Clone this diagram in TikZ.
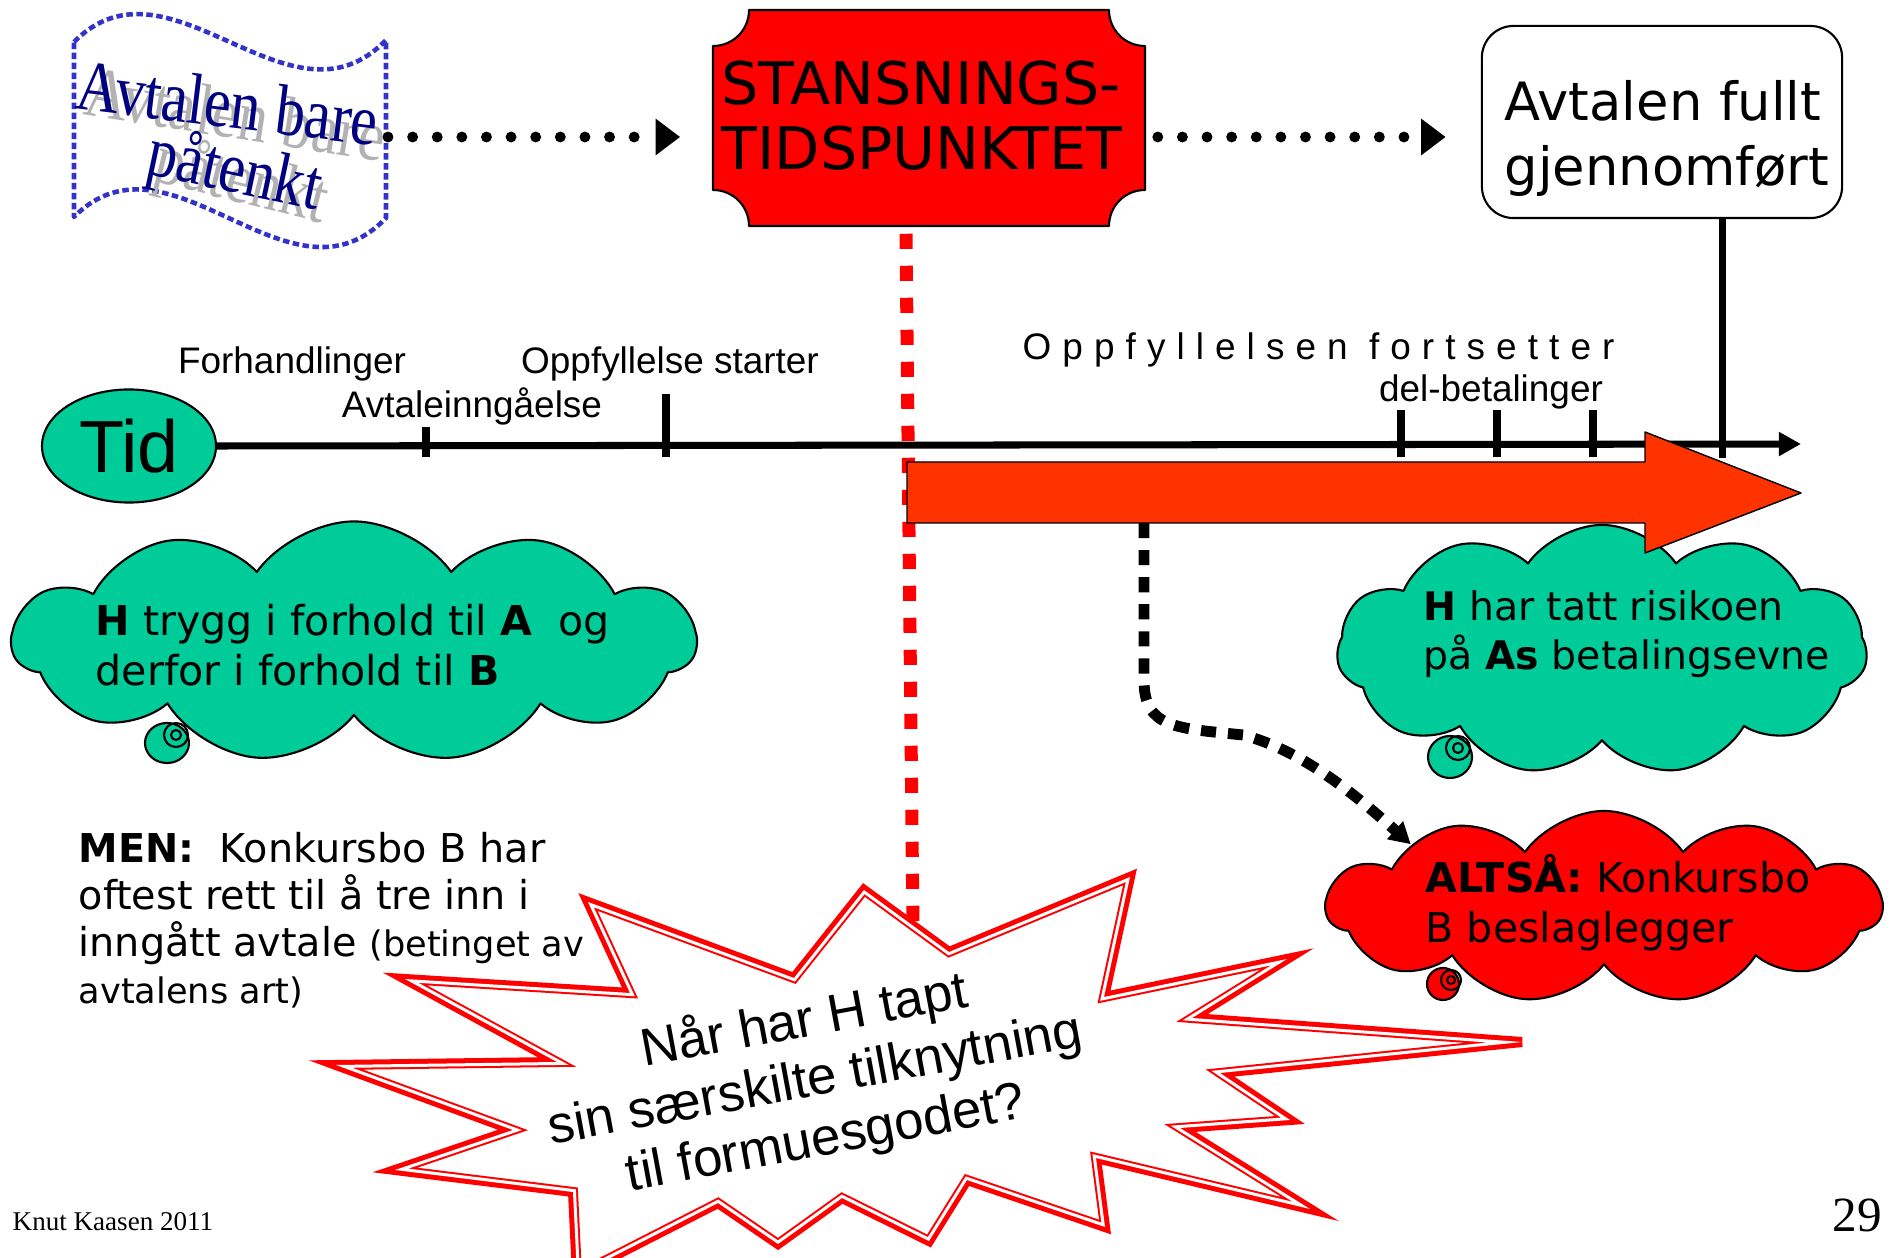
\documentclass[tikz,border=0pt]{standalone}
\usepackage{fontspec}
\setmainfont{Liberation Sans}
\newfontfamily\comicfont{DejaVu Sans}
\newfontfamily\seriffont{Liberation Serif}
\newfontfamily\spacedfont[LetterSpace=30]{Liberation Sans}
\usetikzlibrary{arrows.meta}
\usetikzlibrary{positioning}
\usetikzlibrary{shapes.symbols,shapes.geometric}
\usetikzlibrary{calc}

\definecolor{tidgreen}{RGB}{0,204,153}
\definecolor{arrowred}{RGB}{255,51,0}
\definecolor{bannerblue}{RGB}{51,51,204}
\definecolor{wordnavy}{RGB}{0,0,128}
\definecolor{shadowgray}{RGB}{178,178,178}

\newcommand\comictext{\comicfont\fontsize{11.7pt}{14pt}\selectfont}
\newcommand\labeltext{\fontsize{10.5pt}{12pt}\selectfont}
\newcommand\wordart{\seriffont\fontsize{17pt}{20pt}\selectfont}

\begin{document}
\begin{tikzpicture}[x=0.01cm, y=-0.01cm, line join=round]
\tikzstyle{dotarrow}=[line width=3.1pt, line cap=round, dash pattern=on 0pt off 7pt, -{Triangle[length=7pt,width=10pt]}]
\tikzstyle{timeline}=[line width=2pt]
\tikzstyle{smalllabel}=[inner sep=0pt, font=\labeltext]
\tikzstyle{redmark}=[red, line width=3.7pt, dash pattern=on 4.3pt off 4.8pt]
\tikzstyle{riskline}=[line width=3.1pt, dash pattern=on 4.3pt off 3.4pt, -{Triangle[length=6pt,width=6.5pt]}]
\tikzstyle{cloudbox}=[cloud, cloud puffs=11, cloud puff arc=110, cloud ignores aspect, draw=black, line width=0.6pt, inner sep=0pt]
\tikzstyle{cloudtext}=[anchor=north west, align=left, inner sep=0pt, font=\comictext]
\tikzstyle{tail}=[draw=black, line width=0.6pt]

\useasboundingbox (0,0) rectangle (1893,1258);
\fill[white] (0,0) rectangle (1893,1258);

% planned agreement banner
\draw[bannerblue, line width=1.3pt, dash pattern=on 1.85pt off 1pt]
  (74,42) .. controls (170,-55) and (290,140) .. (386,40) -- (386,218)
  .. controls (290,318) and (170,120) .. (74,217) -- cycle;
\node[font=\wordart, text=shadowgray, rotate=-9] at (236,114) {\scalebox{1}[1.2]{Avtalen bare}};
\node[font=\wordart, text=shadowgray, rotate=-14] at (241,184) {\scalebox{1}[1.2]{påtenkt}};
\node[font=\wordart, text=wordnavy, rotate=-7] (plan) at (228,103) {\scalebox{1}[1.2]{Avtalen bare}};
\node[font=\wordart, text=wordnavy, rotate=-12] (plan2) at (234,174) {\scalebox{1}[1.2]{påtenkt}};

% stansningstidspunktet
\filldraw[fill=red, draw=black, line width=0.6pt]
  (749,10) -- (1109,10) .. controls (1109,30) and (1125,46) .. (1145,46)
  -- (1145,190) .. controls (1125,190) and (1109,206) .. (1109,226)
  -- (749,226) .. controls (749,206) and (733,190) .. (713,190)
  -- (713,46) .. controls (733,46) and (749,30) .. (749,10) -- cycle;
\node[minimum width=4.32cm, minimum height=2.16cm, inner sep=0pt] (stans) at (929,118) {};
\node[anchor=west, align=left, inner sep=0pt, font=\comicfont\fontsize{16.7pt}{18.5pt}\selectfont] (stanstext) at (721,116)
  {STANSNINGS-\\TIDSPUNKTET};

\node[draw, rounded corners=9pt, fill=white, line width=0.6pt, minimum width=3.6cm, minimum height=1.92cm, inner sep=0pt] (done) at (1662,122) {};
\node[anchor=west, align=left, inner sep=0pt, font=\comicfont\fontsize{15pt}{18.5pt}\selectfont] (donetext) at (1504,138)
  {Avtalen fullt\\gjennomført};

\coordinate (planend) at (388,137);
\draw[dotarrow, shorten >=9.1pt] (planend) -- (stans.west |- planend);
\draw[dotarrow, shorten <=3.4pt, shorten >=10pt] (stans.east |- planend) -- (done.west |- planend);

\draw[redmark] ($(stans.south)+(-23,7)$) -- (913,930);

% time line
\node[ellipse, draw, fill=tidgreen, line width=0.6pt, minimum width=1.74cm, minimum height=1.13cm, inner sep=0pt,
      font=\fontsize{21pt}{24pt}\selectfont] (tid) at (129,446) {Tid};
\coordinate (timeend) at (1801,444);
\draw[timeline, -{Triangle[length=6.3pt,width=6.5pt]}] (tid.east) -- (timeend);
\draw[timeline] ([xshift=0.6cm]done.south) -- ++(0,239);
\draw[timeline] (426,427) -- (426,457);
\draw[timeline] (666,394) -- (666,457);
\foreach \x in {1401,1497,1593}
  \draw[timeline] (\x,410) -- (\x,457);

\node[smalllabel, anchor=base] (forh) at (292,374) {Forhandlinger};
\node[smalllabel, anchor=base] (start) at (670,374) {Oppfyllelse starter};
\node[smalllabel, anchor=base] (inngaa) at (472,418) {Avtaleinngåelse};
\node[smalllabel, anchor=base west, font=\spacedfont\labeltext] (fortsett) at (1022,360) {Oppfyllelsen fortsetter};
\node[smalllabel, anchor=base] (delbet) at (1491,402) {del-betalinger};

% risk cloud
\node[cloudbox, fill=tidgreen, minimum width=5.3cm, minimum height=2.5cm] (risiko) at (1602,650) {};
\node[cloudtext, font=\comicfont\fontsize{11.2pt}{14pt}\selectfont] (risikotext) at (1423,590) {\textbf{H} har tatt risikoen\\på \textbf{As} betalingsevne};
\draw[tail, fill=tidgreen] (1450,757) ellipse [x radius=0.22cm, y radius=0.21cm];
\draw[tail] (1458,748) circle [radius=0.12cm];
\draw[tail] (1458,748) circle [radius=0.05cm];

\filldraw[fill=arrowred, draw=black, line width=0.4pt]
  (907,462) -- (1645,462) -- (1645,432) -- (1801,493) -- (1645,553) -- (1645,523) -- (907,523) -- cycle;
\coordinate (riskfrom) at (1144,523);

% question burst
\def\burst{(588,902) -- (794,978) -- (864,890) -- (949,952) -- (1130,877) -- (1104,997) -- (1287,959)
  -- (1192,1018) -- (1522,1042) -- (1220,1073) -- (1290,1120) -- (1180,1128) -- (1310,1209)
  -- (1096,1158) -- (1105,1227) -- (967,1180) -- (929,1241) -- (842,1198) -- (778,1244)
  -- (718,1203) -- (577,1275) -- (573,1192) -- (395,1170) -- (513,1130) -- (336,1065)
  -- (557,1062) -- (405,979) -- (630,993) -- cycle}
\fill[white] \burst;
\draw[red, line width=2.85pt, line join=miter] \burst;
\begin{scope}
  \clip \burst;
  \draw[white, line width=1.7pt, line join=miter] \burst;
\end{scope}
\node[rotate=10.5, align=center, font=\fontsize{15pt}{17pt}\selectfont] (question) at (815,1080)
  {Når har H tapt\\sin særskilte tilknytning\\til formuesgodet?};

% altsaa cloud
\node[cloudbox, fill=red, minimum width=5.55cm, minimum height=1.92cm] (altsaa) at (1604,907) {};
\node[cloudtext] (altsaatext) at (1425,854) {\textbf{ALTSÅ:} Konkursbo\\B beslaglegger};
\draw[tail, fill=red] (1443,984) ellipse [x radius=0.16cm, y radius=0.16cm];
\draw[tail] (1451,980) circle [radius=0.1cm];
\draw[tail] (1451,980) circle [radius=0.04cm];

\draw[riskline] (riskfrom) -- (1144,680) .. controls (1144,728) and (1175,728) .. (1243,735)
  .. controls (1300,750) and (1350,790) .. (altsaa.162);

% left cloud
\node[cloudbox, fill=tidgreen, minimum width=6.83cm, minimum height=2.41cm] (trygg) at (354,642) {};
\node[cloudtext] (tryggtext) at (95,604) {\textbf{H} trygg i forhold til \textbf{A}~ og\\derfor i forhold til \textbf{B}};
\draw[tail, fill=tidgreen] (167,743) ellipse [x radius=0.22cm, y radius=0.2cm];
\draw[tail] (176,735) circle [radius=0.12cm];
\draw[tail] (176,735) circle [radius=0.05cm];

\node[anchor=north west, align=left, inner sep=0pt, font=\comicfont\fontsize{11.3pt}{13.3pt}\selectfont] (men) at (78,832)
  {\textbf{MEN:}\ \ Konkursbo B har\\oftest rett til å tre inn i\\inngått avtale {\fontsize{10pt}{13.3pt}\selectfont(betinget av}\\{\fontsize{10pt}{13.3pt}\selectfont avtalens art)}};

\node[anchor=base west, inner sep=0pt, font=\seriffont\fontsize{7.7pt}{10pt}\selectfont] (author) at (12,1230) {Knut Kaasen 2011};
\node[inner sep=0pt, font=\seriffont\fontsize{14pt}{16pt}\selectfont] (page) at (1857,1215) {29};
\end{tikzpicture}
\end{document}
